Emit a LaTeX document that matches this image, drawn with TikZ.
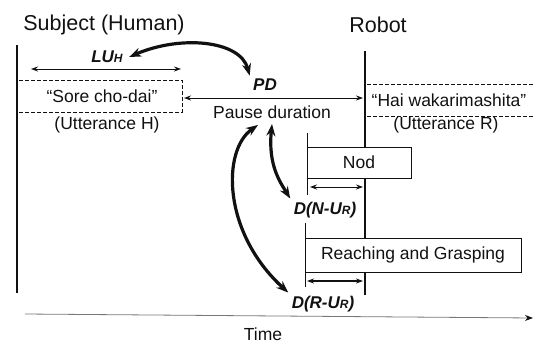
\documentclass[tikz,border=0pt]{standalone}
\usepackage{fontspec}
\setmainfont{Liberation Sans}
\usepackage{tikz}
\usetikzlibrary{positioning, arrows.meta, calc}
\definecolor{ink}{HTML}{111111}
\definecolor{axis}{HTML}{777777}

\newcommand{\sublbl}[1]{{\fontsize{12}{12}\selectfont #1}}

\begin{document}
\begin{tikzpicture}[x=1pt, y=-1pt,
  title/.style={font=\fontsize{21.5}{22}\selectfont, text=ink},
  txt/.style={font=\fontsize{17.5}{18}\selectfont, text=ink},
  var/.style={font=\fontsize{17}{18}\selectfont\bfseries\itshape, text=ink},
  lifeline/.style={draw=ink, line width=2.8pt},
  span/.style={draw=ink, line width=0.9pt, {Stealth[length=7pt,width=5pt]}-{Stealth[length=7pt,width=5pt]}},
  link/.style={draw=ink, line width=3.2pt, {Stealth[length=12pt,width=9pt]}-{Stealth[length=12pt,width=9pt]}},
  utter/.style={draw=ink, dash pattern=on 4pt off 2pt, line width=0.8pt},
  act/.style={txt, draw=ink, line width=0.8pt, fill=white}]
  \useasboundingbox (0,0) rectangle (534,343);

  % the two sides
  \node[title] (subj)  at (104,25) {Subject (Human)};
  \node[title] (robot) at (378,25) {Robot};
  \coordinate (hTop) at (17,45);  \coordinate (hBot) at (17,293);
  \coordinate (rTop) at (365,51); \coordinate (rBot) at (365,295);
  \draw[lifeline] (hTop) -- (hBot);
  \draw[lifeline] (rTop) -- (rBot);

  % human utterance
  \draw[utter] (19,80) -- (182,80) -- (182,112) -- (19,112);
  \coordinate (hEnd) at (182,98);
  \node[txt] (sore)  at (102,96)  {“Sore cho-dai”};
  \node[txt] (uttH)  at (107,125) {(Utterance H)};
  \node[var] (luh)   at (107,57)  {LU\sublbl{H}};
  \coordinate (luL) at (31,69); \coordinate (luR) at (181,69);
  \draw[span] (luL) -- (luR);

  % pause between the two utterances
  \node[var] (pd)    at (265,85)  {PD};
  \node[txt] (pause) at (272,112) {Pause duration};
  \coordinate (rMid) at (363,98);
  \draw[span] (hEnd) ++(2,0) coordinate (pdL) (pdL) -- (rMid);

  % robot utterance
  \draw[utter] (367,84) -- (534,84);
  \draw[utter] (367,116) -- (534,116);
  \node[txt] (hai)  at (449,100) {“Hai wakarimashita”};
  \node[txt] (uttR) at (446,125) {(Utterance R)};

  % nod
  \draw[draw=ink, line width=0.8pt] (307,133) -- (307,195);
  \node[act, minimum width=104pt, minimum height=31pt] (nod) at (359,162.5) {Nod};
  \coordinate (nodL) at (310,187); \coordinate (nodR) at (363,187);
  \draw[span] (nodL) -- (nodR);
  \node[var] (dn) at (325,210) {D(N-U\sublbl{R})};

  % reaching
  \draw[draw=ink, line width=0.8pt] (305,223) -- (305,287);
  \node[act, minimum width=216pt, minimum height=34pt] (reach) at (413,255) {Reaching and Grasping};
  \coordinate (rchL) at (307,281); \coordinate (rchR) at (363,281);
  \draw[span, line width=1.4pt] (rchL) -- (rchR);
  \node[var] (dr) at (323,304) {D(R-U\sublbl{R})};

  % relations between the measures
  \draw[link] (luh.east) ++(3,0) coordinate (a0) (a0) .. controls (180,35) and (240,40) .. (pd.north west);
  \draw[link] (pause.south) ++(0,2) coordinate (b0) (b0) .. controls (268,165) and (280,182) .. (dn.north west);
  \draw[link] (pause.south) ++(-14,3) coordinate (c0) (c0) .. controls (222,150) and (222,232) .. (dr.north west);

  % time axis
  \coordinate (t0) at (25,314); \coordinate (t1) at (533,318);
  \draw[axis, line width=0.8pt, -{Stealth[length=8pt,width=6pt,color=ink]}] (t0) -- (t1);
  \node[txt] (time) at (263,334) {Time};
\end{tikzpicture}
\end{document}
